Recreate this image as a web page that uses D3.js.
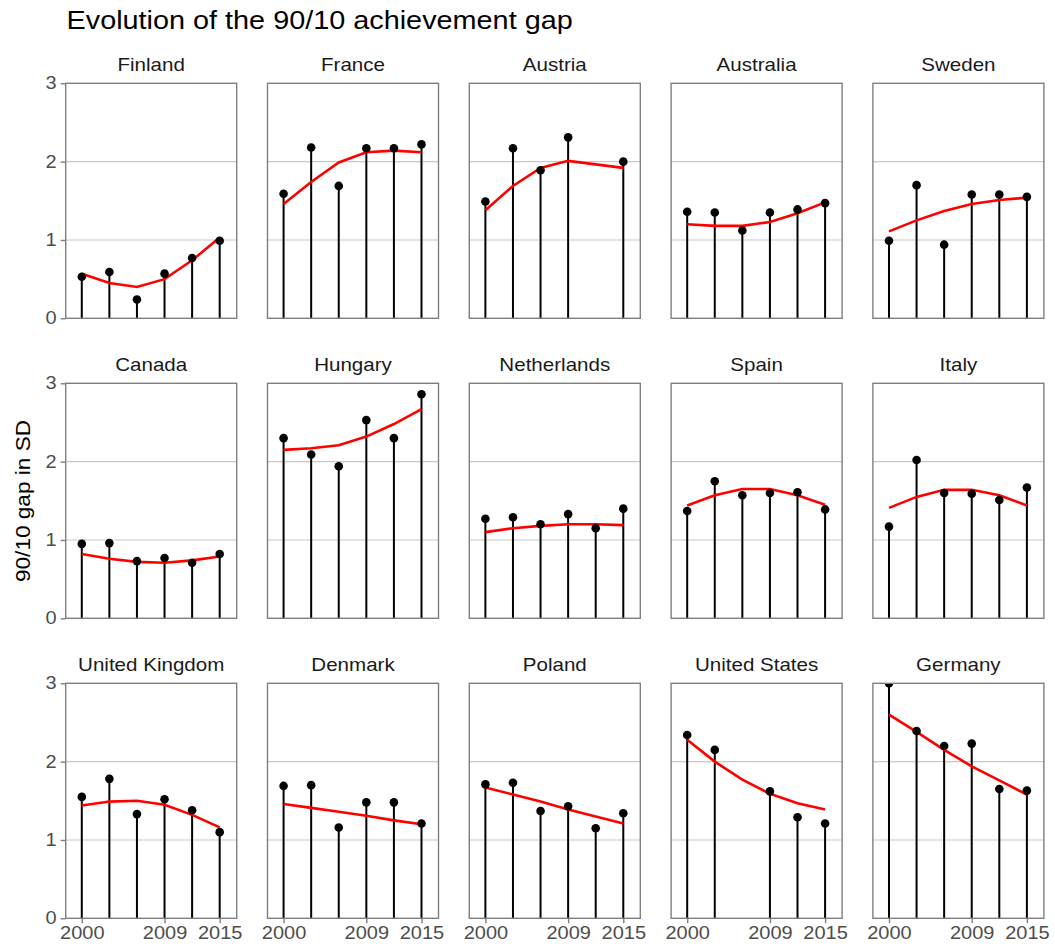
<!DOCTYPE html>
<html>
<head>
<meta charset="utf-8">
<script src="https://cdn.jsdelivr.net/npm/d3@7"></script>
<style>
  body { margin: 0; background: #fff; }
  svg { display: block; font-family: "Liberation Sans", Arial, Helvetica, sans-serif; }
</style>
</head>
<body>
<svg id="chart" width="1055" height="952"></svg>
<script>
// ---------- DATA ----------
const years = [2000, 2003, 2006, 2009, 2012, 2015];
const xTicks = [2000, 2009, 2015];
const yTicks = [0, 1, 2, 3];
const countries = ["Finland", "France", "Austria", "Australia", "Sweden",
                   "Canada", "Hungary", "Netherlands", "Spain", "Italy",
                   "United Kingdom", "Denmark", "Poland", "United States", "Germany"];

// observed 90/10 gap (null = not available)
const gapFinland       = [0.53, 0.59, 0.24, 0.57, 0.77, 0.99];
const gapFrance        = [1.59, 2.18, 1.69, 2.17, 2.17, 2.22];
const gapAustria       = [1.49, 2.17, 1.89, 2.31, null, 2.00];
const gapAustralia     = [1.36, 1.35, 1.12, 1.35, 1.39, 1.47];
const gapSweden        = [0.99, 1.70, 0.94, 1.58, 1.58, 1.55];
const gapCanada        = [0.95, 0.96, 0.73, 0.77, 0.71, 0.82];
const gapHungary       = [2.30, 2.09, 1.94, 2.53, 2.30, 2.86];
const gapNetherlands   = [1.27, 1.29, 1.20, 1.33, 1.15, 1.40];
const gapSpain         = [1.37, 1.75, 1.57, 1.60, 1.61, 1.39];
const gapItaly         = [1.17, 2.02, 1.60, 1.59, 1.51, 1.67];
const gapUK            = [1.55, 1.78, 1.33, 1.52, 1.38, 1.10];
const gapDenmark       = [1.69, 1.70, 1.16, 1.48, 1.48, 1.21];
const gapPoland        = [1.71, 1.73, 1.37, 1.43, 1.15, 1.34];
const gapUS            = [2.34, 2.15, null, 1.62, 1.29, 1.21];
const gapGermany       = [3.00, 2.39, 2.20, 2.23, 1.65, 1.63];

// smoothed trend (red line)
const fitFinland       = [0.57, 0.45, 0.40, 0.50, 0.74, 1.03];
const fitFrance        = [1.46, 1.74, 1.99, 2.12, 2.14, 2.12];
const fitAustria       = [1.38, 1.69, 1.92, 2.01, null, 1.92];
const fitAustralia     = [1.20, 1.18, 1.18, 1.23, 1.34, 1.48];
const fitSweden        = [1.11, 1.25, 1.37, 1.46, 1.51, 1.54];
const fitCanada        = [0.82, 0.76, 0.72, 0.71, 0.74, 0.79];
const fitHungary       = [2.15, 2.17, 2.21, 2.32, 2.48, 2.67];
const fitNetherlands   = [1.10, 1.15, 1.18, 1.20, 1.20, 1.19];
const fitSpain         = [1.44, 1.57, 1.65, 1.65, 1.57, 1.45];
const fitItaly         = [1.41, 1.55, 1.64, 1.64, 1.57, 1.44];
const fitUK            = [1.44, 1.49, 1.50, 1.45, 1.32, 1.16];
const fitDenmark       = [1.46, 1.41, 1.36, 1.31, 1.25, 1.20];
const fitPoland        = [1.67, 1.58, 1.49, 1.39, 1.30, 1.21];
const fitUS            = [2.28, 2.00, 1.77, 1.59, 1.47, 1.39];
const fitGermany       = [2.60, 2.38, 2.15, 1.94, 1.76, 1.58];

const gaps = [gapFinland, gapFrance, gapAustria, gapAustralia, gapSweden,
              gapCanada, gapHungary, gapNetherlands, gapSpain, gapItaly,
              gapUK, gapDenmark, gapPoland, gapUS, gapGermany];
const fits = [fitFinland, fitFrance, fitAustria, fitAustralia, fitSweden,
              fitCanada, fitHungary, fitNetherlands, fitSpain, fitItaly,
              fitUK, fitDenmark, fitPoland, fitUS, fitGermany];

// ---------- LAYOUT ----------
const svg = d3.select("#chart");
const nCols = 5;
const panelW = 171, panelH = 235;
const panelX0 = 65.7, panelStepX = 201.8;
const panelY0 = 83.3, panelStepY = 300;
const STRETCH = 1.13;

function stretchText(sel) {
  sel.each(function () {
    const len = this.getComputedTextLength();
    d3.select(this).attr("textLength", len * STRETCH).attr("lengthAdjust", "spacingAndGlyphs");
  });
}

const x = d3.scaleLinear().domain([1998.25, 2016.85]).range([0, panelW]);
const y = d3.scaleLinear().domain([0, 3]).range([panelH, 0]);

const defs = svg.append("defs");

// Title
svg.append("text")
  .attr("x", 66.5).attr("y", 29.3)
  .attr("font-size", 25.5).attr("fill", "#000")
  .text("Evolution of the 90/10 achievement gap")
  .call(stretchText);

// Y axis label
svg.append("text")
  .attr("transform", "translate(29.5,501) rotate(-90)")
  .attr("text-anchor", "middle")
  .attr("font-size", 20).attr("fill", "#000")
  .text("90/10 gap in SD")
  .call(stretchText);

countries.forEach((name, i) => {
  const col = i % nCols, row = Math.floor(i / nCols);
  const px = panelX0 + col * panelStepX;
  const py = panelY0 + row * panelStepY;
  const g = svg.append("g").attr("transform", `translate(${px},${py})`);

  defs.append("clipPath").attr("id", "clip" + i)
    .append("rect").attr("x", 0).attr("y", 0).attr("width", panelW).attr("height", panelH);

  // strip label
  svg.append("text")
    .attr("x", px + panelW / 2).attr("y", py - 12.3)
    .attr("text-anchor", "middle")
    .attr("font-size", 18.2).attr("fill", "#1a1a1a")
    .text(name)
    .call(stretchText);

  // gridlines
  g.selectAll("line.grid").data([1, 2]).join("line")
    .attr("class", "grid")
    .attr("x1", 0).attr("x2", panelW)
    .attr("y1", d => y(d)).attr("y2", d => y(d))
    .attr("stroke", "#c8c8c8").attr("stroke-width", 1.1);

  const plot = g.append("g").attr("clip-path", `url(#clip${i})`);
  const pts = years.map((yr, j) => ({ yr, v: gaps[i][j] })).filter(d => d.v !== null);

  // stems
  plot.selectAll("line.stem").data(pts).join("line")
    .attr("x1", d => x(d.yr)).attr("x2", d => x(d.yr))
    .attr("y1", y(0)).attr("y2", d => y(d.v))
    .attr("stroke", "#000").attr("stroke-width", 2);

  // trend line
  const fitPts = years.map((yr, j) => ({ yr, v: fits[i][j] })).filter(d => d.v !== null);
  plot.append("path")
    .datum(fitPts)
    .attr("d", d3.line().x(d => x(d.yr)).y(d => y(d.v)))
    .attr("fill", "none").attr("stroke", "#ff0000").attr("stroke-width", 2.6);

  // dots
  plot.selectAll("circle").data(pts).join("circle")
    .attr("cx", d => x(d.yr)).attr("cy", d => y(d.v)).attr("r", 4.3)
    .attr("fill", "#000");

  // panel border
  g.append("rect")
    .attr("x", 0).attr("y", 0).attr("width", panelW).attr("height", panelH)
    .attr("fill", "none").attr("stroke", "#7f7f7f").attr("stroke-width", 1.4);

  // Y axis on first column
  if (col === 0) {
    const ya = g.append("g").call(d3.axisLeft(y).tickValues(yTicks).tickSize(5).tickPadding(4).tickFormat(d3.format("d")));
    ya.select(".domain").remove();
    ya.selectAll("line").attr("stroke", "#7f7f7f").attr("stroke-width", 1.4);
    ya.selectAll("text").attr("font-size", 17.7).attr("fill", "#4d4d4d")
      .attr("font-family", "'Liberation Sans', Arial, sans-serif")
      .call(stretchText);
  }
  // X axis on bottom row
  if (row === 2) {
    const xa = g.append("g").attr("transform", `translate(0,${panelH})`)
      .call(d3.axisBottom(x).tickValues(xTicks).tickSize(5).tickPadding(3).tickFormat(d3.format("d")));
    xa.select(".domain").remove();
    xa.selectAll("line").attr("stroke", "#7f7f7f").attr("stroke-width", 1.4);
    xa.selectAll("text").attr("font-size", 17.7).attr("fill", "#4d4d4d")
      .attr("font-family", "'Liberation Sans', Arial, sans-serif")
      .call(stretchText);
  }
});
</script>
</body>
</html>
